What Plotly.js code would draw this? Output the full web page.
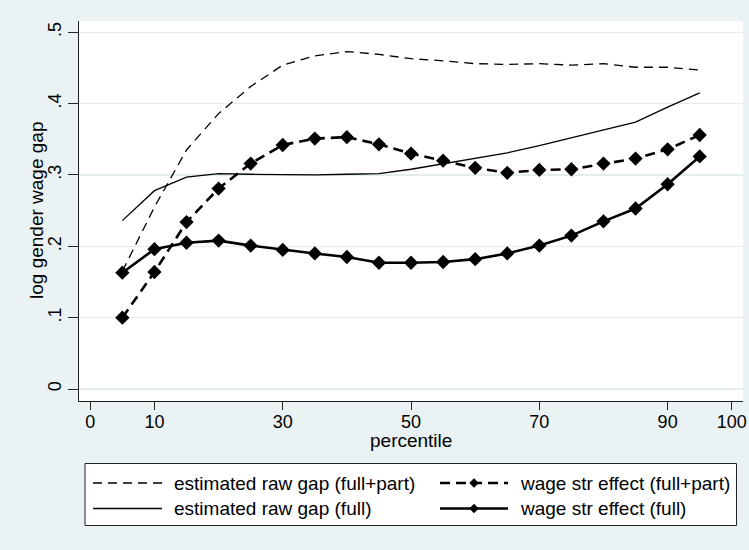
<!DOCTYPE html>
<html>
<head>
<meta charset="utf-8">
<script src="https://cdn.plot.ly/plotly-3.0.1.min.js"></script>
<style>
  html, body { margin: 0; padding: 0; background: #eaf2f3; }
  #chart { width: 749px; height: 550px; }
</style>
</head>
<body>
<div id="chart"></div>
<script>
// Percentiles of the wage distribution
const percentile = [5, 10, 15, 20, 25, 30, 35, 40, 45, 50, 55, 60, 65, 70, 75, 80, 85, 90, 95];

// Estimated raw gap, full- and part-time workers
const rawGapFullPart = [0.165, 0.255, 0.335, 0.386, 0.424, 0.454, 0.467, 0.473, 0.469, 0.463,
                        0.460, 0.456, 0.455, 0.456, 0.454, 0.456, 0.451, 0.451, 0.447];
// Estimated raw gap, full-time workers
const rawGapFull = [0.236, 0.278, 0.297, 0.302, 0.301, 0.300, 0.300, 0.301, 0.302, 0.308,
                    0.316, 0.324, 0.331, 0.341, 0.352, 0.363, 0.374, 0.395, 0.415];
// Wage structure effect, full- and part-time workers
const wageStrFullPart = [0.100, 0.164, 0.234, 0.281, 0.316, 0.342, 0.351, 0.353, 0.343, 0.330,
                         0.320, 0.310, 0.303, 0.307, 0.308, 0.316, 0.323, 0.336, 0.356];
// Wage structure effect, full-time workers
const wageStrFull = [0.163, 0.196, 0.205, 0.208, 0.201, 0.195, 0.190, 0.185, 0.177, 0.177,
                     0.178, 0.182, 0.190, 0.201, 0.215, 0.235, 0.253, 0.287, 0.326];

const xTicks = [0, 10, 30, 50, 70, 90, 100];
const yTicks = [0, 0.1, 0.2, 0.3, 0.4, 0.5];
const yTickText = ['0', '.1', '.2', '.3', '.4', '.5'];

const xTitle = 'percentile';
const yTitle = 'log gender wage gap';
const seriesNames = [
  'estimated raw gap (full+part)',
  'wage str effect (full+part)',
  'estimated raw gap (full)',
  'wage str effect (full)'
];

const FONT = 'Liberation Sans, Arial, Helvetica, sans-serif';
const INK = '#000000';
const THIN_DASH = '9px,6px';
const THICK_DASH = '10px,6px';

const traces = [
  { x: percentile, y: rawGapFullPart, name: seriesNames[0], mode: 'lines',
    line: { color: INK, width: 1.3, dash: THIN_DASH } },
  { x: percentile, y: rawGapFull, name: seriesNames[2], mode: 'lines',
    line: { color: INK, width: 1.3 } },
  { x: percentile, y: wageStrFullPart, name: seriesNames[1], mode: 'lines+markers',
    line: { color: INK, width: 2.6, dash: THICK_DASH },
    marker: { symbol: 'diamond', size: 11, color: INK } },
  { x: percentile, y: wageStrFull, name: seriesNames[3], mode: 'lines+markers',
    line: { color: INK, width: 2.6 },
    marker: { symbol: 'diamond', size: 11, color: INK } }
].map(t => Object.assign(t, { type: 'scatter', showlegend: false, hoverinfo: 'x+y' }));

// Plot-area geometry in pixels, used to place titles and the boxed key
const W = 749, H = 550;
const M = { l: 79, r: 6, t: 21, b: 149 };
const pw = W - M.l - M.r, ph = H - M.t - M.b;
const px = v => (v - M.l) / pw;
const py = v => (H - M.b - v) / ph;

const shapes = [];
const annotations = [];

// Axis titles
annotations.push({ xref: 'paper', yref: 'paper', x: 0.5, y: py(440),
  xanchor: 'center', yanchor: 'middle', showarrow: false, text: xTitle,
  font: { family: FONT, size: 19, color: INK } });
annotations.push({ xref: 'paper', yref: 'paper', x: px(36), y: 0.5, textangle: -90,
  xanchor: 'center', yanchor: 'middle', showarrow: false, text: yTitle,
  font: { family: FONT, size: 19, color: INK } });

// Key frame
shapes.push({ type: 'rect', xref: 'paper', yref: 'paper',
  x0: px(85), x1: px(736.5), y0: py(525.5), y1: py(463.5),
  fillcolor: '#ffffff', line: { color: '#222', width: 1 }, layer: 'above' });

const rows = [483, 508.5];
const cols = [
  { x0: 93, x1: 162, text: 172 },
  { x0: 440, x1: 508, text: 518 }
];
const keyStyles = [
  { w: 1.3, dash: THIN_DASH, marker: false },
  { w: 2.6, dash: THICK_DASH, marker: true },
  { w: 1.3, dash: 'solid', marker: false },
  { w: 2.6, dash: 'solid', marker: true }
];

keyStyles.forEach((s, i) => {
  const c = cols[i % 2], r = rows[Math.floor(i / 2)];
  shapes.push({ type: 'line', xref: 'paper', yref: 'paper',
    x0: px(c.x0), x1: px(c.x1), y0: py(r), y1: py(r),
    line: { color: INK, width: s.w, dash: s.dash }, layer: 'above' });
  if (s.marker) {
    const cx = (c.x0 + c.x1) / 2, d = 4.5;
    shapes.push({ type: 'path', xref: 'paper', yref: 'paper',
      path: `M ${px(cx - d)},${py(r)} L ${px(cx)},${py(r - d)} L ${px(cx + d)},${py(r)} L ${px(cx)},${py(r + d)} Z`,
      fillcolor: INK, line: { color: INK, width: 0.5 }, layer: 'above' });
  }
  annotations.push({ xref: 'paper', yref: 'paper', x: px(c.text), y: py(r),
    xanchor: 'left', yanchor: 'middle', showarrow: false, text: seriesNames[i],
    font: { family: FONT, size: 19, color: INK } });
});

const layout = {
  width: W, height: H,
  margin: { l: M.l, r: M.r, t: M.t, b: M.b, pad: 0 },
  paper_bgcolor: '#eaf2f3',
  plot_bgcolor: '#ffffff',
  font: { family: FONT, size: 18, color: INK },
  showlegend: false,
  xaxis: {
    range: [-1.76, 101.75],
    tickmode: 'array', tickvals: xTicks,
    ticks: 'outside', ticklen: 8, tickwidth: 1, tickcolor: '#222',
    ticklabelstandoff: -4,
    showline: true, linecolor: '#222', linewidth: 1,
    showgrid: false, zeroline: false,
    tickfont: { family: FONT, size: 18, color: INK }
  },
  yaxis: {
    range: [-0.0168, 0.5158],
    tickmode: 'array', tickvals: yTicks, ticktext: yTickText,
    tickangle: -90,
    ticks: 'outside', ticklen: 10, tickwidth: 1, tickcolor: '#222',
    showline: true, linecolor: '#222', linewidth: 1,
    showgrid: true, gridcolor: '#e3ecef', gridwidth: 1.2, zeroline: false,
    tickfont: { family: FONT, size: 18, color: INK }
  },
  shapes: shapes,
  annotations: annotations
};

Plotly.newPlot('chart', traces, layout, { staticPlot: true, displayModeBar: false });
</script>
</body>
</html>
